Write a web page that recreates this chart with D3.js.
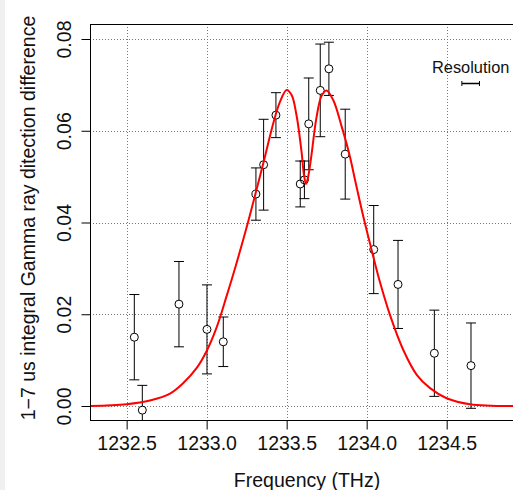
<!DOCTYPE html>
<html>
<head>
<meta charset="utf-8">
<script src="https://cdn.jsdelivr.net/npm/d3@7"></script>
<style>
  body { margin: 0; background: #fff; }
  svg { display: block; font-family: "Liberation Sans", Arial, sans-serif; }
</style>
</head>
<body>
<div id="chart"></div>
<script>
// Pontos medidos (frequência em THz, sinal, erro)
const frequencias = [1232.548, 1232.598, 1232.827, 1233.002, 1233.104, 1233.308, 1233.356, 1233.433,
  1233.585, 1233.611, 1233.638, 1233.710, 1233.764, 1233.866, 1234.044, 1234.196, 1234.423, 1234.652];
const sinais = [0.0150, -0.0009, 0.0222, 0.0167, 0.0140, 0.0462, 0.0526, 0.0634,
  0.0484, 0.0493, 0.0615, 0.0688, 0.0735, 0.0549, 0.0341, 0.0265, 0.0115, 0.0088];
const erros = [0.0093, 0.0054, 0.0093, 0.0097, 0.0054, 0.0057, 0.0099, 0.0049,
  0.0050, 0.0041, 0.0100, 0.0101, 0.0058, 0.0098, 0.0096, 0.0096, 0.0094, 0.0093];

// Curva ajustada
const curvaFreq = [1232.271, 1232.500, 1232.646, 1232.771, 1232.854, 1232.938, 1233.000, 1233.063,
  1233.125, 1233.183, 1233.258, 1233.354, 1233.416, 1233.458, 1233.500, 1233.531, 1233.563,
  1233.594, 1233.608, 1233.621, 1233.635, 1233.655, 1233.686, 1233.718, 1233.749, 1233.791,
  1233.844, 1233.896, 1233.927, 1233.979, 1234.031, 1234.079, 1234.146, 1234.229,
  1234.313, 1234.396, 1234.500, 1234.646, 1234.950];
const curvaValor = [0.0000, 0.0004, 0.0012, 0.0027, 0.0050, 0.0083, 0.0120, 0.0172,
  0.0240, 0.0307, 0.0400, 0.0529, 0.0616, 0.0663, 0.0689, 0.0678, 0.0631,
  0.0551, 0.0504, 0.0484, 0.0501, 0.0547, 0.0628, 0.0676, 0.0688, 0.0667,
  0.0609, 0.0543, 0.0493, 0.0413, 0.0340, 0.0275, 0.0198, 0.0122,
  0.0068, 0.0039, 0.0017, 0.0004, 0.0000];

const ticksX = [1232.5, 1233.0, 1233.5, 1234.0, 1234.5];
const ticksY = [0.00, 0.02, 0.04, 0.06, 0.08];

const largura = 513;
const altura = 490;
const esq = 90, topo = 24, dir = 519, base = 420;
const fonte = 19.5;

const svg = d3.select('#chart').append('svg')
  .attr('width', largura)
  .attr('height', altura);

svg.append('rect').attr('width', largura).attr('height', altura).attr('fill', '#fff');
svg.append('rect').attr('width', 5).attr('height', altura).attr('fill', '#f0f0f0');

const x = d3.scaleLinear().domain([1232.271, 1234.952]).range([esq, dir]);
const y = d3.scaleLinear().domain([-0.00305, 0.08327]).range([base, topo]);

svg.append('clipPath').attr('id', 'area')
  .append('rect')
  .attr('x', esq).attr('y', topo)
  .attr('width', dir - esq).attr('height', base - topo);

// Grade pontilhada
const grade = svg.append('g').attr('stroke', '#777').attr('stroke-width', 1)
  .attr('stroke-dasharray', '1,2');
grade.selectAll('.gx').data(ticksX).enter().append('line')
  .attr('x1', d => Math.round(x(d)) + 0.5).attr('x2', d => Math.round(x(d)) + 0.5)
  .attr('y1', topo).attr('y2', base);
grade.selectAll('.gy').data(ticksY).enter().append('line')
  .attr('y1', d => Math.round(y(d)) + 0.5).attr('y2', d => Math.round(y(d)) + 0.5)
  .attr('x1', esq).attr('x2', dir);

// Barras de erro
const pontos = frequencias.map((f, i) => ({ f: f, v: sinais[i], e: erros[i] }));
const raio = 4;
const cap = 5;
const barras = svg.append('g').attr('clip-path', 'url(#area)')
  .attr('stroke', '#000').attr('stroke-width', 1).attr('fill', 'none');

pontos.forEach(p => {
  const cx = x(p.f);
  const cy = y(p.v);
  const yTopo = y(p.v + p.e);
  const yBase = y(p.v - p.e);
  barras.append('line').attr('x1', cx).attr('x2', cx).attr('y1', yTopo).attr('y2', cy - raio);
  barras.append('line').attr('x1', cx).attr('x2', cx).attr('y1', cy + raio).attr('y2', yBase);
  barras.append('line').attr('x1', cx - cap).attr('x2', cx + cap).attr('y1', yTopo).attr('y2', yTopo);
  barras.append('line').attr('x1', cx - cap).attr('x2', cx + cap).attr('y1', yBase).attr('y2', yBase);
  barras.append('circle').attr('cx', cx).attr('cy', cy).attr('r', raio);
});

// Curva vermelha
const linha = d3.line()
  .x((d, i) => x(curvaFreq[i]))
  .y((d, i) => y(curvaValor[i]))
  .curve(d3.curveCatmullRom.alpha(0.5));
svg.append('path')
  .datum(curvaValor)
  .attr('clip-path', 'url(#area)')
  .attr('d', linha)
  .attr('fill', 'none')
  .attr('stroke', '#ff0000')
  .attr('stroke-width', 2);

// Caixa
svg.append('rect')
  .attr('x', esq + 0.5).attr('y', topo + 0.5)
  .attr('width', dir - esq).attr('height', base - topo)
  .attr('fill', 'none').attr('stroke', '#000').attr('stroke-width', 1);

// Eixo X
const eixoX = svg.append('g').attr('transform', `translate(0,${base + 0.5})`)
  .call(d3.axisBottom(x).tickValues(ticksX).tickSize(9).tickFormat(d3.format('.1f')));
eixoX.select('.domain').attr('d', `M${esq},0H${dir}`);
eixoX.selectAll('text').attr('font-size', fonte).attr('fill', '#111').attr('dy', '0.9em')
  .attr('font-family', '"Liberation Sans", Arial, sans-serif');

// Eixo Y
const eixoY = svg.append('g').attr('transform', `translate(${esq + 0.5},0)`)
  .call(d3.axisLeft(y).tickValues(ticksY).tickSize(9).tickFormat(d3.format('.2f')));
eixoY.select('.domain').attr('d', `M0,${topo}V${base}`);
eixoY.selectAll('text')
  .attr('font-size', fonte).attr('fill', '#111')
  .attr('font-family', '"Liberation Sans", Arial, sans-serif')
  .attr('text-anchor', 'middle')
  .attr('x', null).attr('dy', null)
  .attr('dominant-baseline', 'central')
  .attr('transform', 'translate(-27,0) rotate(-90)');

// Títulos
svg.append('text')
  .attr('x', 307).attr('y', 480)
  .attr('text-anchor', 'middle').attr('dominant-baseline', 'central')
  .attr('font-size', fonte).attr('fill', '#111')
  .text('Frequency (THz)');

svg.append('text')
  .attr('transform', 'translate(28,218) rotate(-90)')
  .attr('text-anchor', 'middle').attr('dominant-baseline', 'central')
  .attr('font-size', fonte).attr('fill', '#111')
  .text('1\u22127 us integral Gamma ray ditection difference');

// Legenda de resolução
const resCentro = 1234.65;
const resLargura = 0.11;
svg.append('text')
  .attr('x', x(resCentro)).attr('y', 67)
  .attr('text-anchor', 'middle').attr('dominant-baseline', 'central')
  .attr('font-size', 16.4).attr('fill', '#111')
  .text('Resolution');
const res = svg.append('g').attr('stroke', '#000').attr('stroke-width', 1.5);
res.append('line').attr('x1', x(resCentro - resLargura / 2)).attr('x2', x(resCentro + resLargura / 2))
  .attr('y1', 83.5).attr('y2', 83.5);
res.append('line').attr('x1', x(resCentro - resLargura / 2)).attr('x2', x(resCentro - resLargura / 2))
  .attr('y1', 81).attr('y2', 86).attr('stroke-width', 1);
res.append('line').attr('x1', x(resCentro + resLargura / 2)).attr('x2', x(resCentro + resLargura / 2))
  .attr('y1', 81).attr('y2', 86).attr('stroke-width', 1);
</script>
</body>
</html>
